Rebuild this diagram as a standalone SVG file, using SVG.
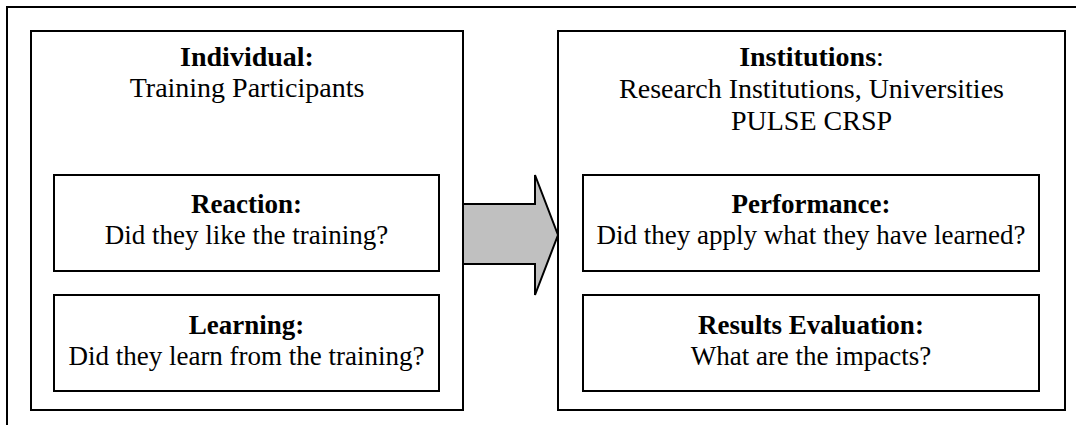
<svg xmlns="http://www.w3.org/2000/svg" width="1076" height="425" viewBox="0 0 1076 425">
<style>
.box{fill:#fff;stroke:#000;stroke-width:2}
.t{font-family:"Liberation Serif","Times New Roman",serif;font-size:27px;fill:#000;text-anchor:middle}
.h{font-size:28px}
.b{font-weight:bold}
</style>
<rect width="1076" height="425" fill="#fff"/>
<path d="M7,430 V7 H1080" fill="none" stroke="#000" stroke-width="2"/>
<g id="individual">
<rect class="box" x="31" y="31" width="432" height="379"/>
<text class="t h b" x="247" y="66">Individual:</text>
<text class="t h" x="247" y="97">Training Participants</text>
</g>
<g id="reaction">
<rect class="box" x="54" y="175" width="385" height="96"/>
<text class="t b" x="246.5" y="213">Reaction:</text>
<text class="t" x="246.5" y="244">Did they like the training?</text>
</g>
<g id="learning">
<rect class="box" x="54" y="295" width="385" height="96"/>
<text class="t b" x="246.5" y="334">Learning:</text>
<text class="t" x="246.5" y="365">Did they learn from the training?</text>
</g>
<g id="institutions">
<rect class="box" x="558" y="31" width="507" height="379"/>
<text class="t h" x="811.5" y="66"><tspan class="b">Institutions</tspan>:</text>
<text class="t h" x="811.5" y="98">Research Institutions, Universities</text>
<text class="t h" x="811.5" y="130">PULSE CRSP</text>
</g>
<g id="performance">
<rect class="box" x="583" y="175" width="456" height="96"/>
<text class="t b" x="811" y="213">Performance:</text>
<text class="t" x="811" y="244">Did they apply what they have learned?</text>
</g>
<g id="results">
<rect class="box" x="583" y="295" width="456" height="96"/>
<text class="t b" x="811" y="334">Results Evaluation:</text>
<text class="t" x="811" y="365">What are the impacts?</text>
</g>
<g id="connectors">
<path d="M463,204 H535 V175 L558,235 L535,295 V264 H463 Z" fill="#c0c0c0" stroke="#000" stroke-width="2" stroke-linejoin="miter"/>
</g>
</svg>
